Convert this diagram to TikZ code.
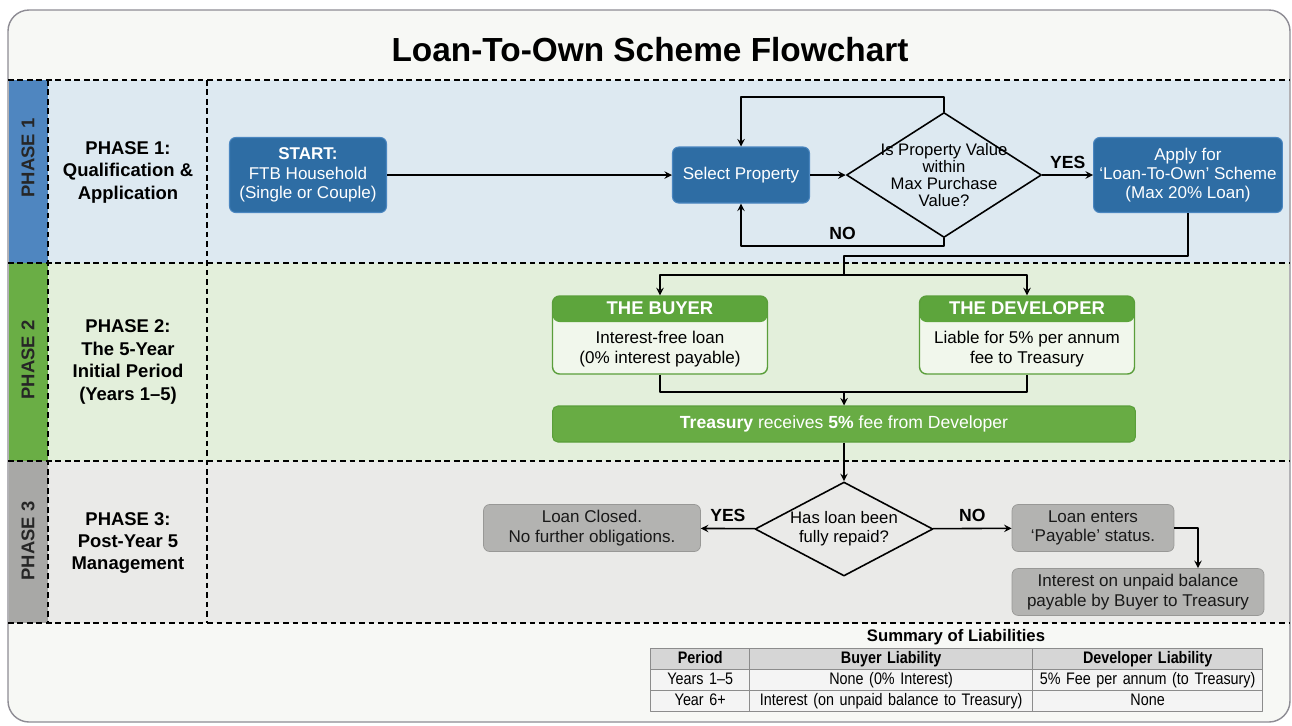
\documentclass[tikz,border=0pt]{standalone}
\usepackage{fontspec}
\setmainfont{Liberation Sans}
\newfontfamily\narrowsans{Liberation Sans}[FakeStretch=0.86]
\usetikzlibrary{shapes.geometric,matrix,arrows}

\definecolor{paper}{HTML}{F7F8F5}
\definecolor{framegray}{HTML}{8E8C94}
\definecolor{bandblue}{HTML}{DDE9F1}
\definecolor{bandgreen}{HTML}{E3EFDB}
\definecolor{bandgray}{HTML}{EAEAE8}
\definecolor{sideblue}{HTML}{4F86C0}
\definecolor{sidegreen}{HTML}{6AAE45}
\definecolor{sidegray}{HTML}{A8A8A6}
\definecolor{boxblue}{HTML}{2E6DA4}
\definecolor{blueedge}{HTML}{4A86C0}
\definecolor{ghead}{HTML}{5DA53C}
\definecolor{gedge}{HTML}{5A9E3A}
\definecolor{gbody}{HTML}{F1F7EC}
\definecolor{gbar}{HTML}{68AC44}
\definecolor{boxgray}{HTML}{B3B3B1}
\definecolor{tabhead}{HTML}{D6D6D6}
\definecolor{tabcell}{HTML}{F4F4F4}
\definecolor{tabline}{HTML}{8C8C8C}

\tikzset{
  laneline/.style={dash pattern=on 3.2pt off 2.2pt, line width=0.7pt},
  sidetext/.style={rotate=90, font=\bfseries\fontsize{10.5}{12}\selectfont, text=black!85},
  phasetext/.style={align=center, font=\bfseries\fontsize{10.5}{12.8}\selectfont},
  bluebox/.style={draw=blueedge, fill=boxblue, text=white, line width=0.6pt, rounded corners=3.5pt, align=center},
  decision/.style={diamond, draw, line width=0.9pt, align=center, inner sep=-4pt},
  card/.style={draw=gedge, fill=gbody, line width=0.8pt, rounded corners=4pt, align=center,
    path picture={\fill[ghead] (path picture bounding box.north west) rectangle ([yshift=-0.52cm]path picture bounding box.north east);}},
  cardhead/.style={text=white, font=\bfseries\fontsize{10.5}{12}\selectfont},
  greenbar/.style={fill=gbar, draw=gedge, line width=0.6pt, rounded corners=3pt, text=white, font=\fontsize{10}{12}\selectfont},
  graybox/.style={fill=boxgray, draw=boxgray!85!black, line width=0.4pt, rounded corners=3.5pt, align=center, text=black!90},
  yesno/.style={font=\bfseries\fontsize{10}{12}\selectfont},
  flow/.style={->, line width=0.9pt},
  link/.style={line width=0.9pt}
}

\begin{document}
\begin{tikzpicture}[x=0.02cm, y=-0.02cm, >=stealth, line join=round, font=\fontsize{9.7}{11}\selectfont]
\useasboundingbox (0,0) rectangle (1292,725);
% frame and lanes
\fill[white] (0,0) rectangle (1292,725);
\draw[framegray, fill=paper, line width=0.8pt, rounded corners=12pt] (8,10) rectangle (1290,722);
\fill[bandblue] (9,80) rectangle (1289,263);
\fill[bandgreen] (9,263) rectangle (1289,461);
\fill[bandgray] (9,461) rectangle (1289,623);
\fill[sideblue] (9,80) rectangle (48,263);
\fill[sidegreen] (9,263) rectangle (48,461);
\fill[sidegray] (9,461) rectangle (48,623);
\foreach \y in {80,263,461,623}
  \draw[laneline] (8,\y) -- (1290,\y);
\foreach \x in {48,207}
  \draw[laneline] (\x,80) -- (\x,623);

\node[font=\bfseries\fontsize{19}{22}\selectfont] (title) at (650,50) {Loan-To-Own Scheme Flowchart};

\node[sidetext] (side1) at (28,158) {PHASE 1};
\node[sidetext] (side2) at (28,360) {PHASE 2};
\node[sidetext] (side3) at (28,541) {PHASE 3};
\node[phasetext] (phase1) at (128,172) {PHASE 1:\\Qualification \&\\Application};
\node[phasetext] (phase2) at (128,362) {PHASE 2:\\The 5-Year\\Initial Period\\(Years 1--5)};
\node[phasetext] (phase3) at (128,543) {PHASE 3:\\Post-Year 5\\Management};

% phase 1
\node[bluebox, minimum width=3.14cm, minimum height=1.5cm] (start) at (308,175) {\textbf{START:}\\FTB Household\\(Single or Couple)};
\node[bluebox, minimum width=2.74cm, minimum height=1.12cm] (select) at (741,175) {Select Property};
\node[decision, aspect=1.56, minimum width=3.9cm, minimum height=2.5cm, font=\fontsize{9.5}{9.8}\selectfont] (value) at (944,175) {Is Property Value\\within\\Max Purchase\\Value?};
\node[bluebox, minimum width=3.56cm, minimum height=1.5cm] (apply) at (1188,175) {Apply for\\‘Loan-To-Own’ Scheme\\(Max 20\% Loan)};

\draw[flow] (start) -- (select);
\draw[flow] (select) -- (value);
\draw[flow] (value) -- node[yesno, above] {YES} (apply);
\draw[flow] (value.north) -- ++(0,-15) -| (select.north);
\draw[flow] (value.south) -- ++(0,8) -| node[yesno, above, pos=0.25] {NO} (select.south);

% phase 2
\node[card, minimum width=4.3cm, minimum height=1.56cm] (buyer) at (660,335) {\mbox{}\\[12pt]Interest-free loan\\(0\% interest payable)};
\node[cardhead] (buyerhd) at ([yshift=-0.26cm]buyer.north) {THE BUYER};
\node[card, minimum width=4.3cm, minimum height=1.56cm] (developer) at (1027,335) {\mbox{}\\[12pt]Liable for 5\% per annum\\fee to Treasury};
\node[cardhead] (developerhd) at ([yshift=-0.26cm]developer.north) {THE DEVELOPER};
\node[greenbar, minimum width=11.66cm, minimum height=0.72cm] (treasury) at (844,424) {\textbf{Treasury} receives \textbf{5\%} fee from Developer};

\coordinate (split) at (844,275);
\coordinate (merge) at (844,392);
\draw[link] (apply.south) -- ++(0,43) -| (split);
\draw[flow] (split) -| (buyer.north);
\draw[flow] (split) -| (developer.north);
\draw[link] (buyer.south) |- (merge) -| (developer.south);
\draw[flow] (merge) -- (treasury);

% phase 3
\node[decision, aspect=1.9, minimum width=3.56cm, minimum height=1.88cm, font=\fontsize{9.5}{11}\selectfont] (repaid) at (844,529) {Has loan been\\fully repaid?};
\node[graybox, minimum width=4.34cm, minimum height=0.94cm] (closed) at (592,528) {Loan Closed.\\No further obligations.};
\node[graybox, minimum width=3.24cm, minimum height=0.94cm] (payable) at (1093,528) {Loan enters\\‘Payable’ status.};
\node[graybox, minimum width=5.04cm, minimum height=0.92cm] (unpaid) at (1138,592) {Interest on unpaid balance\\payable by Buyer to Treasury};

\draw[flow] (treasury) -- (repaid);
\draw[flow] (repaid) -- node[yesno, above] {YES} (closed);
\draw[flow] (repaid) -- node[yesno, above] {NO} (payable);
\draw[flow] (payable.east) -| ([xshift=1.2cm]unpaid.north);

% summary table
\node[font=\bfseries\fontsize{9.5}{11}\selectfont] (summary) at (956,637) {Summary of Liabilities};
\matrix (liab) [matrix of nodes, anchor=north west, inner sep=0pt, column sep=-0.4pt, row sep=-0.4pt,
  nodes={draw=tabline, fill=tabcell, line width=0.4pt, text height=7pt, text depth=2.2pt, minimum height=0.42cm, inner sep=1pt, align=center, font=\narrowsans\fontsize{9.5}{10}\selectfont},
  column 1/.style={nodes={text width=1.91cm}},
  column 2/.style={nodes={text width=5.59cm}},
  column 3/.style={nodes={text width=4.53cm}},
  row 1/.style={nodes={fill=tabhead, font=\narrowsans\bfseries\fontsize{9.5}{10}\selectfont}}] at (650,648) {
  Period & Buyer Liability & Developer Liability \\
  Years 1–5 & None (0\% Interest) & 5\% Fee per annum (to Treasury) \\
  Year 6+ & Interest (on unpaid balance to Treasury) & None \\
};
\end{tikzpicture}
\end{document}
